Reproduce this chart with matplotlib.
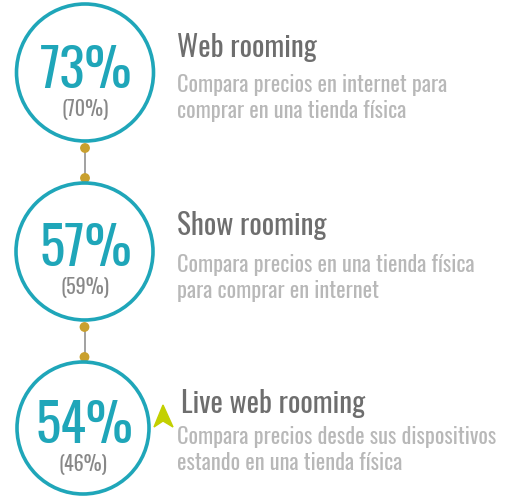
import matplotlib
matplotlib.use("Agg")
import matplotlib.pyplot as plt
from matplotlib.patches import Circle, Polygon

plt.rcParams['font.family'] = ['Oswald', 'DejaVu Sans']

values = [73, 57, 54]
previous = [70, 59, 46]
titles = ["Web rooming", "Show rooming", "Live web rooming"]
descriptions = [
    ["Compara precios en internet para", "comprar en una tienda física"],
    ["Compara precios en una tienda física", "para comprar en internet"],
    ["Compara precios desde sus dispositivos", "estando en una tienda física"],
]

TEAL = "#1fa6b9"
GOLD = "#c9a02e"
LINE = "#9a9a9a"
TITLE_C = "#6e6e6e"
DESC_C = "#b8b8b8"
PREV_C = "#888888"
ARROW = "#c3d000"

fig = plt.figure(figsize=(5.05, 4.97), dpi=100)
ax = fig.add_axes([0, 0, 1, 1])
ax.set_xlim(0, 505)
ax.set_ylim(497, 0)
ax.set_aspect('equal')
ax.axis('off')

centers = [(85, 72.5), (84.5, 251.5), (83, 428)]
radii = [68.5, 68.5, 66]
title_x = [177, 177, 181]
title_base = [57, 235, 413]
desc_base = [92, 272, 444]
desc_gap = 26.5

# connectors
for i in range(len(values) - 1):
    x = centers[i][0]
    y1 = centers[i][1] + radii[i] + 7
    y2 = centers[i + 1][1] - radii[i + 1] - 5
    ax.plot([x, x], [y1, y2], color=LINE, lw=1.3, zorder=1)
    ax.add_patch(Circle((x, y1), 4.2, color=GOLD, zorder=2))
    ax.add_patch(Circle((x, y2), 4.2, color=GOLD, zorder=2))

for i, (v, p, t, d) in enumerate(zip(values, previous, titles, descriptions)):
    cx, cy = centers[i]
    ax.add_patch(Circle((cx, cy), radii[i], fill=False, ec=TEAL, lw=2.6, zorder=3))
    ax.text(cx + 1, cy + 15, f"{v}%", ha='center', va='baseline', fontsize=38, color=TEAL, zorder=4)
    ax.text(cx, cy + 43, f"({p}%)", ha='center', va='baseline', fontsize=14.5, color=PREV_C, zorder=4)
    ax.text(title_x[i], title_base[i], t, ha='left', va='baseline', fontsize=21, color=TITLE_C)
    for k, line in enumerate(d):
        ax.text(177, desc_base[i] + k * desc_gap, line, ha='left', va='baseline',
                fontsize=16, color=DESC_C)

# arrow marker
ax.add_patch(Polygon([(163, 405), (173, 427), (163, 421), (154, 427)], closed=True,
                     color=ARROW, zorder=5))

fig.savefig("out.png", dpi=100)
